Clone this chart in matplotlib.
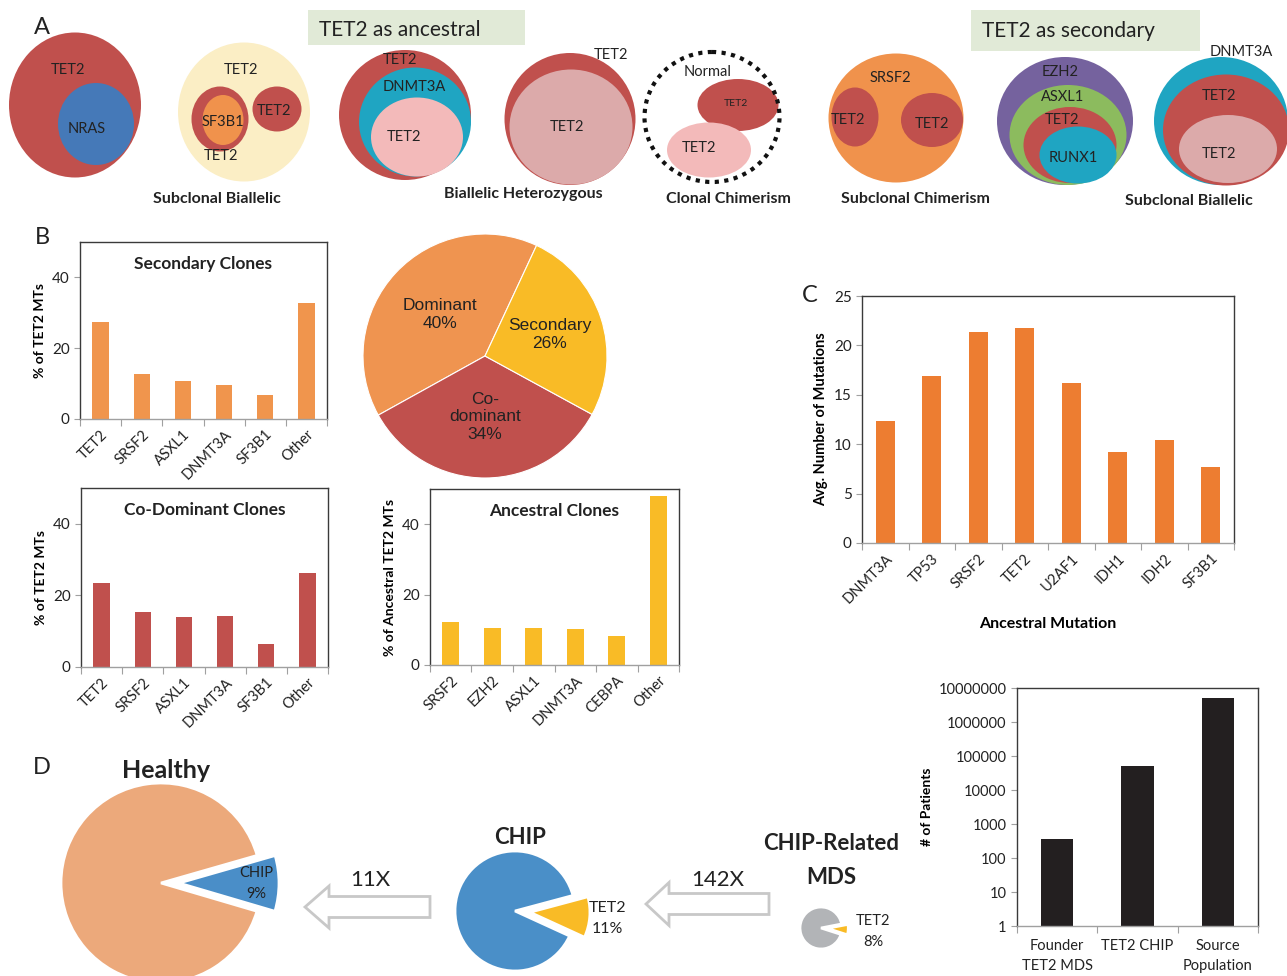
import numpy as np
import matplotlib
matplotlib.use('Agg')
import matplotlib.pyplot as plt
from matplotlib.patches import Ellipse, Rectangle, FancyArrow
from matplotlib.ticker import NullLocator

plt.rcParams['font.family'] = ['Lato', 'DejaVu Sans']

W, H = 1287, 976

# ---- data ----
sec_genes = ['TET2', 'SRSF2', 'ASXL1', 'DNMT3A', 'SF3B1', 'Other']
sec_pct = [27.5, 12.7, 10.7, 9.5, 6.7, 32.7]

codom_genes = ['TET2', 'SRSF2', 'ASXL1', 'DNMT3A', 'SF3B1', 'Other']
codom_pct = [23.5, 15.5, 13.9, 14.2, 6.4, 26.3]

anc_genes = ['SRSF2', 'EZH2', 'ASXL1', 'DNMT3A', 'CEBPA', 'Other']
anc_pct = [12.3, 10.6, 10.6, 10.1, 8.3, 48.0]

clone_types = ['Dominant', 'Co-\ndominant', 'Secondary']
clone_pct = [40, 34, 26]

anc_mut = ['DNMT3A', 'TP53', 'SRSF2', 'TET2', 'U2AF1', 'IDH1', 'IDH2', 'SF3B1']
avg_mut = [12.3, 16.9, 21.4, 21.8, 16.2, 9.2, 10.4, 7.7]

patient_groups = ['Founder\nTET2 MDS', 'TET2 CHIP', 'Source\nPopulation']
patient_counts = [365, 51000, 5100000]

healthy_pct = [91, 9]
chip_pct = [89, 11]
mds_pct = [92, 8]
fold_labels = ['11X', '142X']

RED = '#c0504d'
ORANGE = '#f0924c'
YELLOW = '#f9bb26'
TEAL = '#1fa5c2'
PINK = '#f3baba'
DPINK = '#dcaaaa'


def px_axes(fig, x0, y0, x1, y1):
    return fig.add_axes([x0 / W, 1 - y1 / H, (x1 - x0) / W, (y1 - y0) / H])


def bar_panel(ax, cats, vals, color, rot=45):
    x = np.arange(len(cats))
    ax.bar(x, vals, width=0.4, color=color)
    ax.set_xlim(-0.5, len(cats) - 0.5)
    ax.set_xticks(np.arange(len(cats) + 1) - 0.5)
    ax.set_xticklabels([])
    ax.set_xticks(x, minor=True)
    if rot:
        ax.set_xticklabels(cats, minor=True, rotation=rot, ha='right',
                           rotation_mode='anchor', fontsize=10.5, color='#222')
        ax.tick_params(axis='x', which='minor', length=0, pad=6)
    else:
        ax.set_xticklabels(cats, minor=True, fontsize=10.5, color='#222', linespacing=1.6)
        ax.tick_params(axis='x', which='minor', length=0, pad=9)
    ax.tick_params(axis='x', which='major', length=5, color='#a0a0a0')
    ax.tick_params(axis='y', length=4, color='#a0a0a0', labelsize=11, labelcolor='#222')
    for s in ax.spines.values():
        s.set_color('#3a3a3a')
        s.set_linewidth(1)
    ax.spines['bottom'].set_color('#a0a0a0')


fig = plt.figure(figsize=(12.87, 9.76), dpi=100)

ov = fig.add_axes([0, 0, 1, 1])
ov.set_xlim(0, W)
ov.set_ylim(H, 0)
ov.axis('off')

# ---- panel A diagrams ----
ov.add_patch(Rectangle((308, 10), 217, 35, color='#e1ead7', lw=0))
ov.add_patch(Rectangle((971, 10), 229, 41, color='#e1ead7', lw=0))
ov.text(400, 30, 'TET2 as ancestral', fontsize=15, ha='center', va='center', color='#222')
ov.text(1068, 31, 'TET2 as secondary', fontsize=15, ha='center', va='center', color='#222')

shapes = [
    (75, 105, 132, 145, RED), (96, 124, 76, 82, '#4579b8'),
    (244, 112, 132, 139, '#fbeec5'), (220, 119, 57, 65, RED), (223, 120, 41, 50, ORANGE),
    (277, 109, 49, 45, RED),
    (405, 115, 132, 130, RED), (415, 122, 112, 109, TEAL), (417, 137, 92, 79, PINK),
    (570, 119, 131, 132, RED), (571, 127, 123, 115, DPINK),
    (738, 105, 81, 52, RED), (709, 150, 84, 55, PINK),
    (896, 118, 135, 129, ORANGE), (855, 117, 47, 59, RED), (932, 120, 62, 54, RED),
    (1065, 121, 136, 128, '#75629e'), (1068, 135, 117, 100, '#8cbb5e'),
    (1070, 145, 93, 76, RED), (1078, 155, 77, 57, TEAL),
    (1221, 121, 134, 128, TEAL), (1226, 130, 126, 111, RED), (1228, 149, 98, 68, DPINK),
]
for cx, cy, w, h, c in shapes:
    ov.add_patch(Ellipse((cx, cy), w, h, color=c, lw=0))
ov.add_patch(Ellipse((712, 117), 135, 130, fill=False, ec='#111', lw=3, ls=(0, (1, 1.3))))

a_labels = [
    (68, 70, 'TET2', 10.5), (87, 129, 'NRAS', 10.5),
    (241, 70, 'TET2', 10.5), (223, 122, 'SF3B1', 10.5), (221, 156, 'TET2', 10.5), (274, 111, 'TET2', 10.5),
    (400, 60, 'TET2', 10.5), (414, 87, 'DNMT3A', 10.5), (404, 137, 'TET2', 10.5),
    (611, 55, 'TET2', 10.5), (567, 127, 'TET2', 10.5),
    (708, 72, 'Normal', 10.5), (736, 103, 'TET2', 7.5), (699, 148, 'TET2', 10.5),
    (890, 78, 'SRSF2', 10.5), (848, 120, 'TET2', 10.5), (932, 124, 'TET2', 10.5),
    (1060, 72, 'EZH2', 10.5), (1063, 97, 'ASXL1', 10.5), (1062, 120, 'TET2', 10.5), (1073, 158, 'RUNX1', 10.5),
    (1241, 52, 'DNMT3A', 10.5), (1219, 96, 'TET2', 10.5), (1219, 154, 'TET2', 10.5),
]
for x, y, t, s in a_labels:
    ov.text(x, y, t, fontsize=s, ha='center', va='center', color='#222')

captions = [(217, 199, 'Subclonal Biallelic'), (523, 194, 'Biallelic Heterozygous'),
            (728, 199, 'Clonal Chimerism'), (915, 199, 'Subclonal Chimerism'),
            (1189, 201, 'Subclonal Biallelic')]
for x, y, t in captions:
    ov.text(x, y, t, fontsize=11.5, fontweight='bold', ha='center', va='center', color='#222')

for x, y, t in [(42, 28, 'A'), (42, 237, 'B'), (810, 296, 'C'), (42, 767, 'D')]:
    ov.text(x, y, t, fontsize=17, ha='center', va='center', color='#222')

# ---- panel B bars ----
ax1 = px_axes(fig, 80, 242, 327, 419)
bar_panel(ax1, sec_genes, sec_pct, '#f0954d')
ax1.set_ylim(0, 50)
ax1.set_yticks([0, 20, 40])
ax1.set_ylabel('% of TET2 MTs', fontsize=10, fontweight='bold')
ax1.text(0.5, 0.92, 'Secondary Clones', transform=ax1.transAxes, ha='center', va='top',
         fontsize=12.5, fontweight='bold', color='#222')

ax2 = px_axes(fig, 81, 488, 328, 667)
bar_panel(ax2, codom_genes, codom_pct, RED)
ax2.set_ylim(0, 50)
ax2.set_yticks([0, 20, 40])
ax2.set_ylabel('% of TET2 MTs', fontsize=10, fontweight='bold')
ax2.text(0.5, 0.92, 'Co-Dominant Clones', transform=ax2.transAxes, ha='center', va='top',
         fontsize=12.5, fontweight='bold', color='#222')

ax3 = px_axes(fig, 430, 489, 679, 665)
bar_panel(ax3, anc_genes, anc_pct, YELLOW)
ax3.set_ylim(0, 50)
ax3.set_yticks([0, 20, 40])
ax3.set_ylabel('% of Ancestral TET2 MTs', fontsize=10, fontweight='bold')
ax3.text(0.5, 0.92, 'Ancestral Clones', transform=ax3.transAxes, ha='center', va='top',
         fontsize=12.5, fontweight='bold', color='#222')

# ---- panel B pie ----
axp = px_axes(fig, 363, 234, 607, 478)
wedges, _ = axp.pie(clone_pct, colors=['#ef9450', RED, YELLOW], startangle=65,
                    counterclock=True, wedgeprops=dict(edgecolor='white', linewidth=0.8))
axp.set_xlim(-1, 1)
axp.set_ylim(-1, 1)
for w, name, p in zip(wedges, clone_types, clone_pct):
    th = np.deg2rad((w.theta1 + w.theta2) / 2)
    r = 0.5 if name != 'Secondary' else 0.56
    axp.text(r * np.cos(th), r * np.sin(th), '%s\n%d%%' % (name, p), ha='center', va='center',
             fontsize=12.5, family='Liberation Sans', color='#222', linespacing=1.2)

# ---- panel C ----
axc = px_axes(fig, 862, 296, 1234, 543)
bar_panel(axc, anc_mut, avg_mut, '#ed7d31')
axc.set_ylim(0, 25)
axc.set_yticks(range(0, 26, 5))
axc.set_ylabel('Avg. Number of Mutations', fontsize=10.5, fontweight='bold')
axc.set_xlabel('Ancestral Mutation', fontsize=11.5, fontweight='bold', labelpad=8)

# ---- panel D bars ----
axd = px_axes(fig, 1017, 688, 1258, 926)
bar_panel(axd, patient_groups, patient_counts, '#231f20', rot=0)
axd.set_yscale('log')
axd.set_ylim(1, 1e7)
axd.set_yticks([10 ** k for k in range(8)])
axd.set_yticklabels([str(10 ** k) for k in range(8)])
axd.yaxis.set_minor_locator(NullLocator())
axd.tick_params(axis='y', labelsize=10.5)
axd.set_ylabel('# of Patients', fontsize=10, fontweight='bold')

# ---- panel D pies ----
def small_pie(cx, cy, r, vals, colors, start, expl, lim, label, ldist, fs):
    ax = px_axes(fig, cx - lim * r, cy - lim * r, cx + lim * r, cy + lim * r)
    ws, _ = ax.pie(vals, colors=colors, startangle=start, explode=[0, expl],
                   wedgeprops=dict(edgecolor='white', linewidth=2))
    ax.set_xlim(-lim, lim)
    ax.set_ylim(-lim, lim)
    for w in ws:
        w.set_clip_on(False)
    th = np.deg2rad((ws[1].theta1 + ws[1].theta2) / 2)
    ax.text(ldist * np.cos(th), ldist * np.sin(th), label, ha='center', va='center',
            fontsize=fs, color='#222', linespacing=1.65)
    return ax

small_pie(161, 883, 100, healthy_pct, ['#eca97b', '#4a8ec8'], 16, 0.18, 1.3,
          'CHIP\n%d%%' % healthy_pct[1], 0.95, 10.5)
small_pie(515, 911, 60, chip_pct, ['#4a8fc8', YELLOW], 15, 0.25, 1.3,
          'TET2\n%d%%' % chip_pct[1], 1.55, 11.5)
small_pie(821, 928, 21, mds_pct, ['#b2b4b7', YELLOW], 11, 0.3, 1.5,
          'TET2\n%d%%' % mds_pct[1], 2.48, 10.5)

ov.text(166, 771, 'Healthy', fontsize=18, fontweight='bold', ha='center', va='center', color='#222')
ov.text(520, 838, 'CHIP', fontsize=16, fontweight='bold', ha='center', va='center', color='#222')
ov.text(831, 843, 'CHIP-Related', fontsize=16, fontweight='bold', ha='center', va='center', color='#222')
ov.text(831, 878, 'MDS', fontsize=16, fontweight='bold', ha='center', va='center', color='#222')

ov.add_patch(FancyArrow(430, 907, -125, 0, width=21, head_width=42, head_length=24,
                        length_includes_head=True, fc='white', ec='#c8c8c8', lw=2))
ov.add_patch(FancyArrow(769, 904, -123, 0, width=21, head_width=43, head_length=23,
                        length_includes_head=True, fc='white', ec='#c8c8c8', lw=2))
ov.text(370, 880, fold_labels[0], fontsize=16, ha='center', va='center', color='#222')
ov.text(718, 880, fold_labels[1], fontsize=16, ha='center', va='center', color='#222')

fig.savefig('out.png', dpi=100)
